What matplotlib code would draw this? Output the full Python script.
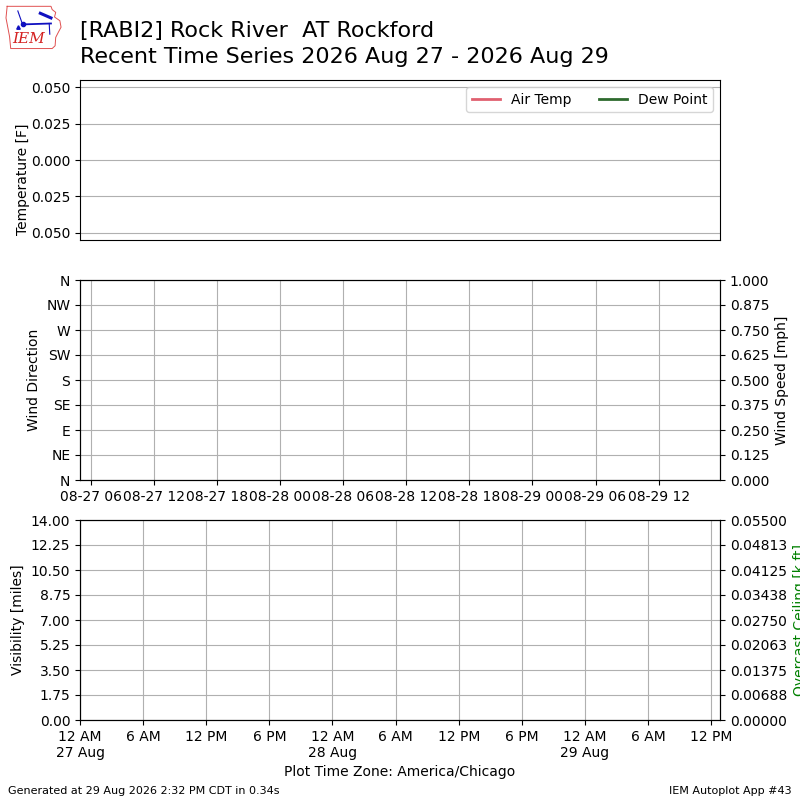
import datetime as dt
import matplotlib
matplotlib.use("Agg")
import matplotlib.pyplot as plt
import matplotlib.dates as mdates
from matplotlib.ticker import FixedLocator, FixedFormatter, FuncFormatter

# ---------------- data / text ----------------
station_title = "[RABI2] Rock River  AT Rockford"
subtitle = "Recent Time Series 2026 Aug 27 - 2026 Aug 29"
legend_labels = ["Air Temp", "Dew Point"]
temp_ylim = [-0.055, 0.055]
temp_ticks = [-0.050, -0.025, 0.000, 0.025, 0.050]
temp_labels = ["0.050", "0.025", "0.000", "0.025", "0.050"]
dir_ticks = [0, 45, 90, 135, 180, 225, 270, 315, 360]
dir_labels = ["N", "NE", "E", "SE", "S", "SW", "W", "NW", "N"]
speed_ticks = [0.0, 0.125, 0.25, 0.375, 0.5, 0.625, 0.75, 0.875, 1.0]
vis_ticks = [0.0, 1.75, 3.5, 5.25, 7.0, 8.75, 10.5, 12.25, 14.0]
ceil_ticks = [0.0, 0.006875, 0.01375, 0.020625, 0.0275, 0.034375, 0.04125, 0.048125, 0.055]
ceil_labels = ["0.00000", "0.00688", "0.01375", "0.02063", "0.02750",
               "0.03438", "0.04125", "0.04813", "0.05500"]
footer_left = "Generated at 29 Aug 2026 2:32 PM CDT in 0.34s"
footer_right = "IEM Autoplot App #43"
tz_label = "Plot Time Zone: America/Chicago"

CDT = dt.timezone(dt.timedelta(hours=-5))
UTC = dt.timezone.utc
t_start = dt.datetime(2026, 8, 27, 0, 0, tzinfo=CDT)
t_end = dt.datetime(2026, 8, 29, 12, 50, tzinfo=CDT)

# ---------------- figure ----------------
fig = plt.figure(figsize=(8, 8), dpi=100)

# title
fig.text(0.1, 0.9735, station_title + "\n" + subtitle, fontsize=16,
         ha="left", va="top", linespacing=1.38)

# logo (decorative)
lax = fig.add_axes([0.006, 0.937, 0.074, 0.058])
lax.set_xlim(0, 1)
lax.set_ylim(0, 1)
lax.axis("off")
ox = [0.04, 0.78, 0.80, 0.86, 0.84, 0.93, 0.95, 0.90, 0.86, 0.85, 0.80, 0.10, 0.08, 0.02, 0.04]
oy = [0.95, 0.95, 0.88, 0.82, 0.72, 0.64, 0.50, 0.38, 0.28, 0.10, 0.04, 0.04, 0.30, 0.70, 0.95]
lax.plot(ox, oy, color="#e05050", lw=0.7)
lax.text(0.40, 0.10, "IEM", color="#d42020", fontsize=11, family="DejaVu Serif",
         style="italic", ha="center", va="bottom")
lax.plot([0.30, 0.78], [0.56, 0.58], color="#1010c0", lw=1.3)
lax.plot([0.30], [0.56], "o", color="#1010c0", ms=3)
lax.plot([0.30, 0.22], [0.56, 0.85], color="#1010c0", lw=0.8)
lax.plot([0.60, 0.78], [0.80, 0.70], color="#1010c0", lw=2.2)
lax.plot([0.75, 0.76], [0.58, 0.35], color="#1010c0", lw=0.8)
lax.plot([0.22], [0.50], "^", color="#1010c0", ms=2.5)

# ---- top: temperature ----
ax1 = fig.add_axes([0.1, 0.7, 0.8, 0.2])
ax1.plot([], [], color="#e06070", lw=2, label=legend_labels[0])
ax1.plot([], [], color="#2e6a2e", lw=2, label=legend_labels[1])
ax1.set_xlim(t_start, t_end)
ax1.set_ylim(*temp_ylim)
ax1.yaxis.set_major_locator(FixedLocator(temp_ticks))
ax1.yaxis.set_major_formatter(FixedFormatter(temp_labels))
ax1.set_xticks([])
ax1.grid(True, axis="y")
ax1.set_ylabel("Temperature [F]")
ax1.yaxis.set_label_coords(-0.078, 0.38)
ax1.legend(loc="upper right", ncol=2, fontsize=10)

# ---- middle: wind ----
ax2 = fig.add_axes([0.1, 0.4, 0.8, 0.25])
ax2.set_xlim(t_start, t_end)
ax2.set_ylim(0, 360)
ax2.yaxis.set_major_locator(FixedLocator(dir_ticks))
ax2.yaxis.set_major_formatter(FixedFormatter(dir_labels))
ax2.xaxis.set_major_locator(mdates.HourLocator(byhour=[0, 6, 12, 18], tz=UTC))
ax2.xaxis.set_major_formatter(mdates.DateFormatter("%m-%d %H", tz=UTC))
ax2.grid(True)
ax2.set_ylabel("Wind Direction")
ax2b = ax2.twinx()
ax2b.set_ylim(0, 1)
ax2b.yaxis.set_major_locator(FixedLocator(speed_ticks))
ax2b.yaxis.set_major_formatter(FuncFormatter(lambda v, p: "%.3f" % v))
ax2b.set_ylabel("Wind Speed [mph]")

# ---- bottom: visibility / ceiling ----
ax3 = fig.add_axes([0.1, 0.1, 0.8, 0.25])
ax3.set_xlim(t_start, t_end)
ax3.set_ylim(0, 14)
ax3.yaxis.set_major_locator(FixedLocator(vis_ticks))
ax3.yaxis.set_major_formatter(FuncFormatter(lambda v, p: "%.2f" % v))
ax3.xaxis.set_major_locator(mdates.HourLocator(byhour=[0, 6, 12, 18], tz=CDT))


def fmt_local(x, pos=None):
    d = mdates.num2date(x, tz=CDT)
    h = d.hour % 12
    h = 12 if h == 0 else h
    s = "%d %s" % (h, "AM" if d.hour < 12 else "PM")
    if d.hour == 0:
        s += "\n%d %s" % (d.day, d.strftime("%b"))
    return s


ax3.xaxis.set_major_formatter(FuncFormatter(fmt_local))
ax3.grid(True)
ax3.set_ylabel("Visibility [miles]")
ax3.set_xlabel(tz_label)
ax3b = ax3.twinx()
ax3b.set_ylim(0, 0.055)
ax3b.yaxis.set_major_locator(FixedLocator(ceil_ticks))
ax3b.yaxis.set_major_formatter(FixedFormatter(ceil_labels))
ax3b.set_ylabel("Overcast Ceiling [k ft]", color="green")

# footer
fig.text(0.01, 0.005, footer_left, fontsize=8, ha="left", va="bottom")
fig.text(0.99, 0.005, footer_right, fontsize=8, ha="right", va="bottom")

fig.savefig("out.png", dpi=100)
